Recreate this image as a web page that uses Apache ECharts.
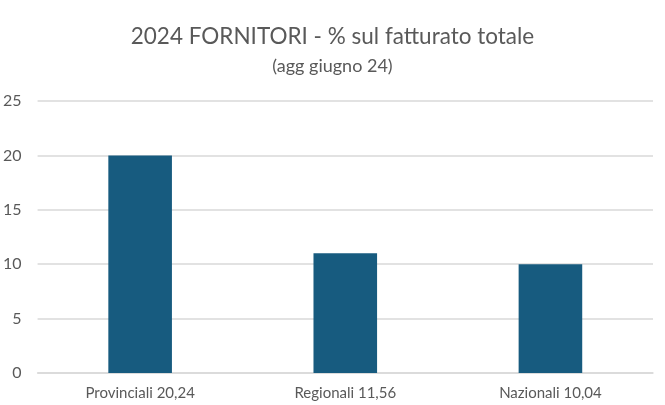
<!DOCTYPE html>
<html><head><meta charset="utf-8">
<script src="https://cdn.jsdelivr.net/npm/echarts@6/dist/echarts.min.js"></script>
<style>html,body{margin:0;padding:0;background:#fff}#c{width:665px;height:405px}</style>
</head><body><div id="c"></div>
<script>
const categories = ["Provinciali 20,24", "Regionali 11,56", "Nazionali 10,04"];
const values = [20, 11, 10];
const yTicks = [0, 5, 10, 15, 20, 25];

const chart = echarts.init(document.getElementById('c'), null, {renderer: 'canvas'});
chart.setOption({
  animation: false,
  backgroundColor: '#ffffff',
  title: {
    text: '2024 FORNITORI - % sul fatturato totale',
    subtext: '(agg giugno 24)',
    left: 'center',
    top: 20,
    itemGap: 9,
    textStyle: {fontFamily: 'Lato', fontSize: 22.5, fontWeight: 'normal', color: '#595959'},
    subtextStyle: {fontFamily: 'Lato', fontSize: 18, color: '#595959'}
  },
  grid: {left: 34, right: 12, top: 101, bottom: 32, containLabel: false},
  xAxis: {
    type: 'category',
    data: categories,
    axisTick: {show: false},
    axisLine: {lineStyle: {color: '#d9d9d9', width: 1.5}},
    axisLabel: {fontFamily: 'Lato', fontSize: 15, color: '#595959', margin: 13}
  },
  yAxis: {
    type: 'value',
    min: yTicks[0],
    max: yTicks[yTicks.length - 1],
    interval: 5,
    axisLine: {show: false},
    axisTick: {show: false},
    splitLine: {lineStyle: {color: '#d9d9d9', width: 1.5}},
    axisLabel: {fontFamily: 'Lato', fontSize: 16, color: '#595959', margin: 16}
  },
  series: [{
    type: 'bar',
    data: values,
    barWidth: '31%',
    itemStyle: {color: '#175b7f'}
  }]
});
</script></body></html>
